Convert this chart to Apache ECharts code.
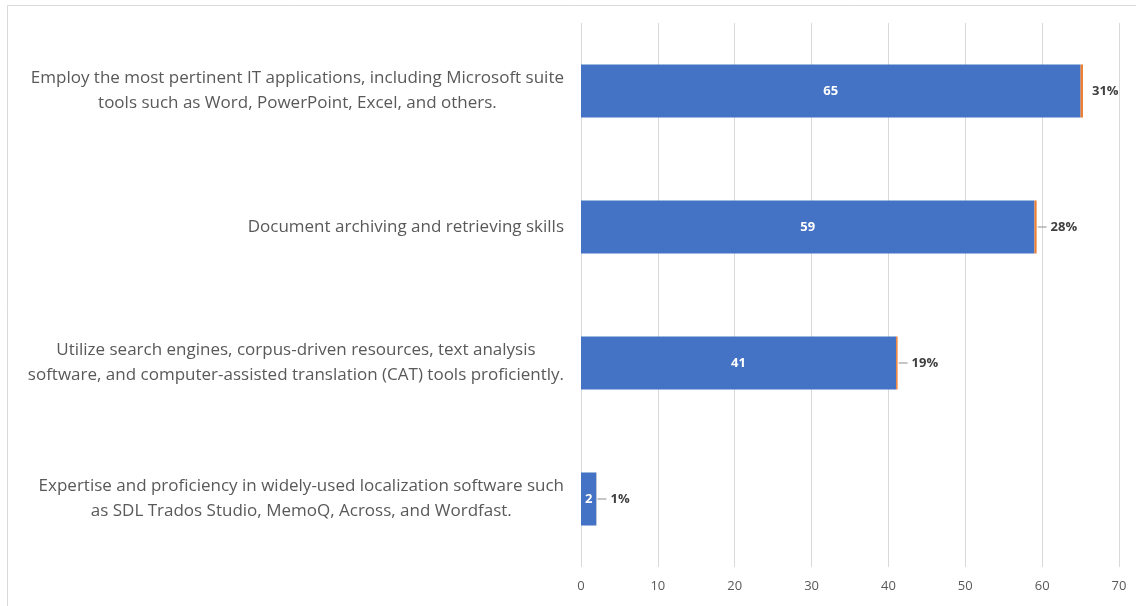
<!DOCTYPE html>
<html>
<head>
<meta charset="utf-8">
<script src="https://cdn.jsdelivr.net/npm/echarts@6/dist/echarts.min.js"></script>
<style>
  html, body { margin: 0; padding: 0; background: #fff; }
  #chart { width: 1136px; height: 606px; }
</style>
</head>
<body>
<div id="chart"></div>
<script>
// Skill categories, listed from top to bottom
const categories = [
  'Employ the most pertinent IT applications, including Microsoft suite\ntools such as Word, PowerPoint, Excel, and others.',
  'Document archiving and retrieving skills',
  'Utilize search engines, corpus-driven resources, text analysis\nsoftware, and computer-assisted translation (CAT) tools proficiently.',
  'Expertise and proficiency in widely-used localization software such\nas SDL Trados Studio, MemoQ, Across, and Wordfast.'
];
// Number of respondents per skill
const counts = [65, 59, 41, 2];
// Share of respondents per skill, in percent
const percents = [31, 28, 19, 1];
// Axis tick values
const xTicks = [0, 10, 20, 30, 40, 50, 60, 70];

const chart = echarts.init(document.getElementById('chart'));

// Percent labels sit to the right of each bar; all but the top one carry a short leader line
const pctLabelData = percents.map((p, i) => ({
  value: p / 100,
  label: {
    show: true,
    position: 'right',
    distance: 1,
    formatter: '{line|}{gap|}{t|' + p + '%}',
    rich: {
      line: i === 0
        ? { width: 4, height: 1, backgroundColor: 'transparent' }
        : { width: 9, height: 1, backgroundColor: '#8c8c8c' },
      gap: { width: 4 },
      t: { fontSize: 13, fontWeight: 'bold', color: '#404040', fontFamily: 'Open Sans' }
    }
  }
}));

chart.setOption({
  animation: false,
  textStyle: { fontFamily: 'Open Sans' },
  graphic: [{
    type: 'rect',
    shape: { x: 7.5, y: 5.5, width: 1200, height: 700 },
    style: { fill: 'none', stroke: '#d9d9d9', lineWidth: 1 },
    silent: true,
    z: -1
  }],
  grid: { left: 581, right: 17, top: 23, bottom: 39, containLabel: false },
  xAxis: {
    type: 'value',
    min: xTicks[0],
    max: xTicks[xTicks.length - 1],
    interval: 10,
    axisLine: { show: false },
    axisTick: { show: false },
    splitLine: { show: true, lineStyle: { color: '#d9d9d9', width: 1 } },
    axisLabel: { color: '#595959', fontSize: 13, margin: 13, fontFamily: 'Open Sans' }
  },
  yAxis: {
    type: 'category',
    inverse: true,
    data: categories,
    axisLine: { show: false },
    axisTick: { show: false },
    axisLabel: {
      margin: 17,
      color: '#595959',
      fontSize: 17,
      lineHeight: 25,
      fontFamily: 'Open Sans',
      formatter: v => v.split('\n').map(s => '{c|' + s + '}').join('\n'),
      rich: { c: { align: 'center', color: '#595959', fontSize: 17, lineHeight: 25, fontFamily: 'Open Sans' } }
    }
  },
  series: [
    {
      name: 'Count',
      type: 'bar',
      stack: 'total',
      barWidth: '39%',
      data: counts,
      itemStyle: { color: '#4472c4' },
      label: {
        show: true,
        position: 'inside',
        color: '#ffffff',
        fontSize: 13,
        fontWeight: 'bold',
        fontFamily: 'Open Sans'
      }
    },
    {
      name: 'Percent',
      type: 'bar',
      stack: 'total',
      data: pctLabelData,
      itemStyle: { color: '#ed7d31' }
    }
  ]
});
</script>
</body>
</html>
